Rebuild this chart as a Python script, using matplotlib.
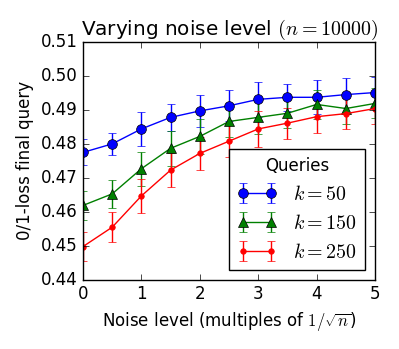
import matplotlib
matplotlib.use("Agg")
import matplotlib.pyplot as plt
import numpy as np

plt.style.use('classic')

noise = [0, 0.5, 1, 1.5, 2, 2.5, 3, 3.5, 4, 4.5, 5]
k50 = [0.4775, 0.4800, 0.4844, 0.4878, 0.4897, 0.4912, 0.4931, 0.4937, 0.4937, 0.4945, 0.4951]
k50_err = [0.0038, 0.0033, 0.0049, 0.0040, 0.0048, 0.0046, 0.0052, 0.0040, 0.0050, 0.0050, 0.0045]
k150 = [0.4619, 0.4653, 0.4727, 0.4787, 0.4822, 0.4866, 0.4878, 0.4890, 0.4916, 0.4904, 0.4919]
k150_err = [0.0042, 0.0042, 0.0050, 0.0051, 0.0051, 0.0046, 0.0049, 0.0043, 0.0042, 0.0045, 0.0044]
k250 = [0.4498, 0.4555, 0.4647, 0.4723, 0.4772, 0.4808, 0.4844, 0.4861, 0.4880, 0.4889, 0.4904]
k250_err = [0.0043, 0.0045, 0.0050, 0.0050, 0.0048, 0.0047, 0.0054, 0.0046, 0.0048, 0.0046, 0.0045]
labels = [r'$k = 50$', r'$k = 150$', r'$k = 250$']

fig = plt.figure(figsize=(3.99, 3.49), dpi=100, facecolor='white')
ax = fig.add_axes([0.208, 0.198, 0.732, 0.682])

ax.errorbar(noise, k50, yerr=k50_err, color='b', marker='o', markersize=7, label=labels[0])
ax.errorbar(noise, k150, yerr=k150_err, color='g', marker='^', markersize=7, label=labels[1])
ax.errorbar(noise, k250, yerr=k250_err, color='r', marker='.', markersize=8, label=labels[2])

ax.set_xlim(0, 5)
ax.set_ylim(0.44, 0.51)
ax.set_xticks(np.arange(0, 6, 1))
ax.set_yticks(np.arange(0.44, 0.5101, 0.01))
ax.set_yticklabels(['%.2f' % v for v in np.arange(0.44, 0.5101, 0.01)])
ax.set_title(r'Varying noise level $(n = 10000)$')
ax.set_xlabel(r'Noise level (multiples of $1/\sqrt{n}$)')
ax.set_ylabel('0/1-loss final query')
ax.legend(loc='lower right', title='Queries', numpoints=2)

fig.savefig('out.png', dpi=100, facecolor='white')
